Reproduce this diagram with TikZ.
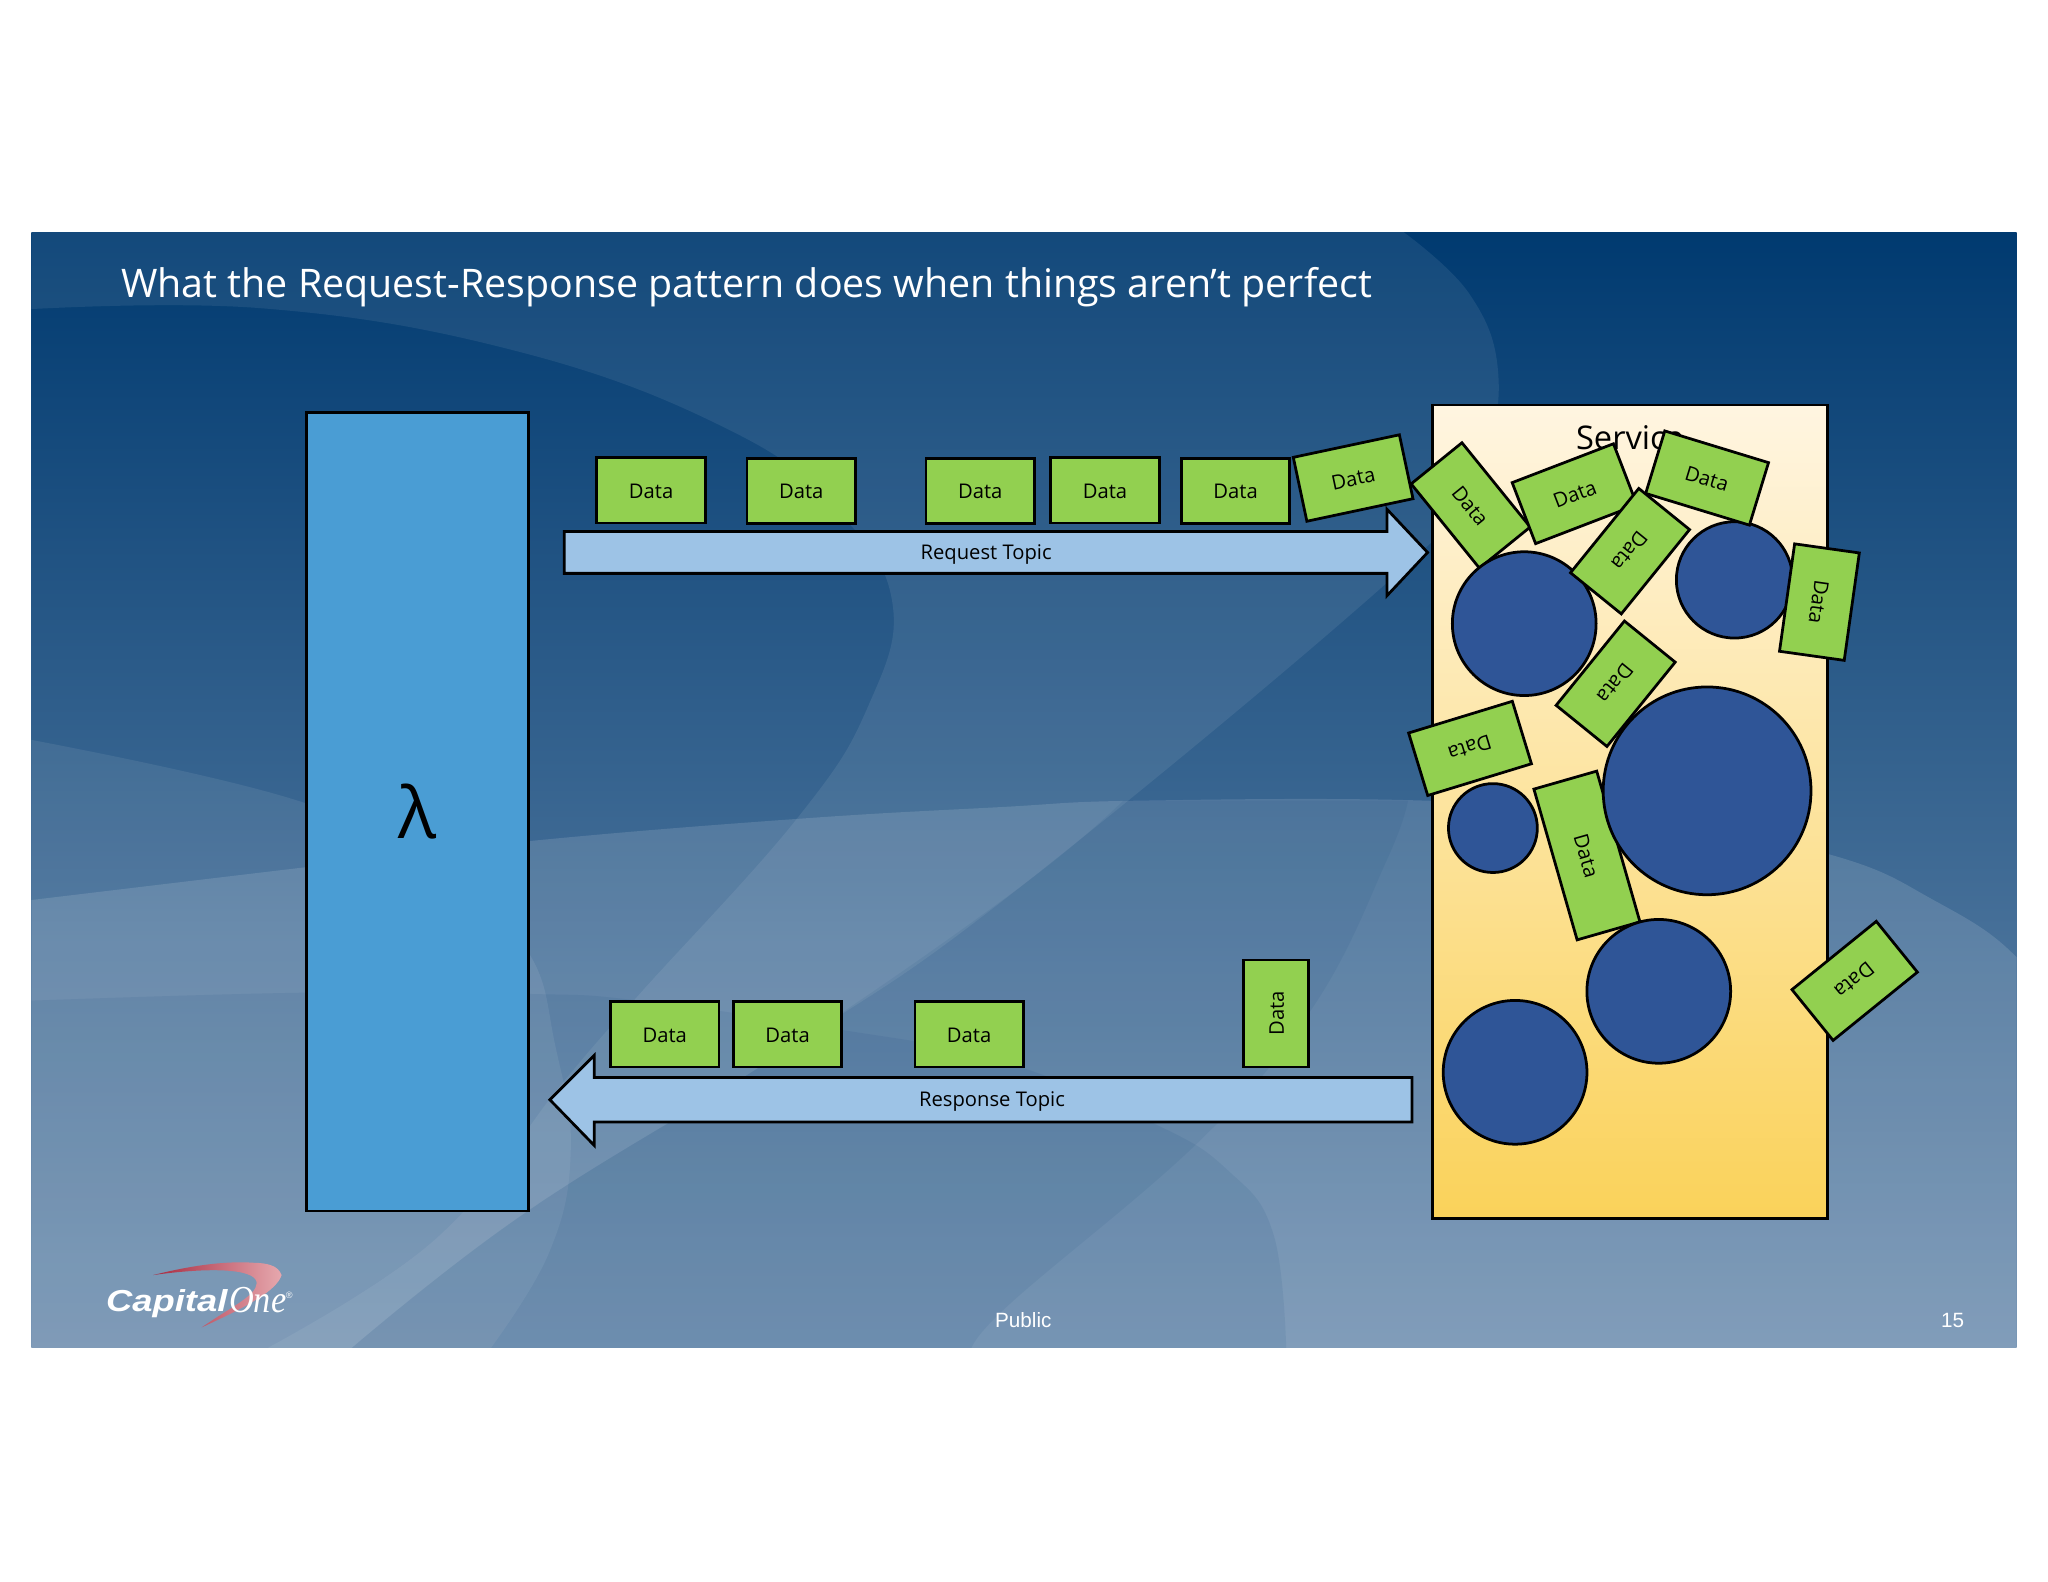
\documentclass[tikz,border=0pt]{standalone}
\usepackage{xcolor}
\usepackage{fontspec}
\setmainfont{Open Sans}
\newfontfamily\arialfont{Liberation Sans}
\newfontfamily\timesfont{Liberation Serif}
\definecolor{mynavy}{HTML}{003A70}
\definecolor{mymidblue}{HTML}{2F5D8C}
\definecolor{mypaleblue}{HTML}{6F8FB0}
\definecolor{mylambda}{HTML}{4A9DD4}
\definecolor{mygreen}{HTML}{92D050}
\definecolor{mytopic}{HTML}{9DC3E6}
\definecolor{mycircle}{HTML}{2F5597}
\definecolor{mycream}{HTML}{FFF5E1}
\definecolor{mysand}{HTML}{FFEEC6}
\definecolor{mygold}{HTML}{FAD25A}
\definecolor{myred}{HTML}{A82A40}
\definecolor{myrose}{HTML}{B93F55}
\definecolor{mypink}{HTML}{E6A8AE}
\tikzset{
  databox/.style={draw=black,line width=0.6pt,fill=mygreen,inner sep=0pt,
    minimum width=0.83cm,minimum height=0.5cm,text height=3.4pt,text depth=0pt,
    font=\fontsize{4.4}{5}\selectfont},
  blob/.style={circle,draw=black,line width=0.6pt,fill=mycircle,inner sep=0pt},
  topicarrow/.style={draw=black,line width=0.6pt,fill=mytopic},
  topiclabel/.style={inner sep=0pt,font=\fontsize{4.4}{5}\selectfont},
  swoosh/.style={fill=white,fill opacity=0.08},
  footer/.style={inner sep=0pt,text=white,font=\arialfont\fontsize{4.5}{5}\selectfont}
}
\begin{document}
\begin{tikzpicture}[x=0.01cm,y=-0.01cm]
\useasboundingbox (0,0) rectangle (1568,1211.2);
\fill[white] (0,0) rectangle (1568,1211.2);

% slide background
\begin{scope}
\clip (24,178) rectangle (1544,1032);
\shade[top color=mynavy,middle color=mymidblue,bottom color=mypaleblue] (24,178) rectangle (1544,1032);
\fill[swoosh] plot[smooth,tension=0.7] coordinates {(0,238) (200,236) (400,270) (560,330) (640,390) (683,460) (665,540) (610,627) (488,763) (430,830) (332,950) (190,1040)} -- (260,1040)
  -- plot[smooth,tension=0.7] coordinates {(260,1040) (400,930) (600,805) (780,680) (1093,418) (1135,350) (1147,285) (1125,225) (1075,178)} -- (1075,165) -- (0,165) -- cycle;
\fill[swoosh] plot[smooth,tension=0.7] coordinates {(0,562) (234,615) (350,680) (405,730) (425,800) (437,880) (420,960) (370,1040)} -- (0,1040) -- cycle;
\fill[swoosh,fill opacity=0.13] plot[smooth,tension=0.7] coordinates {(0,692) (234,664) (405,644) (610,627) (765,618) (873,613) (1092,613) (1250,625) (1400,654) (1482,690) (1544,733) (1580,790)} -- (1580,1040) -- (0,1040) -- cycle;
\fill[mynavy,fill opacity=0.08] plot[smooth,tension=0.7] coordinates {(0,767) (234,760) (405,761) (488,766) (635,787) (765,812) (883,860) (940,896) (975,945) (985,1040)} -- (0,1040) -- cycle;
\fill[mynavy,fill opacity=0.07] plot[smooth,tension=0.7] coordinates {(1078,613) (1062,658) (1006,770) (919,873) (766,1005) (745,1040)} -- (260,1040)
  -- plot[smooth,tension=0.7] coordinates {(260,1040) (400,930) (600,805) (780,680) (860,613)} -- cycle;
\end{scope}

% logo
\shade[left color=myred,middle color=myrose,right color=mypink,draw=none] (117.4,976.2) .. controls (150,968) and (175,965.5) .. (194,966.8) .. controls (205,967) and (213,969) .. (215.6,976.2)
  .. controls (212,988) and (190,1000) .. (154.4,1016.3) .. controls (178,1000) and (196,992) .. (196.5,982.6) .. controls (197,973) and (170,969) .. cycle;
\node[inner sep=0pt,anchor=base west,text=white,xscale=1.2,font=\arialfont\bfseries\itshape\fontsize{6.6}{7}\selectfont] (capital) at (80.4,1004.3) {Capital};
\node[inner sep=0pt,anchor=base west,text=white,xscale=0.9,font=\timesfont\itshape\fontsize{8.3}{9}\selectfont] (one) at (174.8,1005) {One};
\node[inner sep=0pt,text=white,font=\arialfont\fontsize{2}{2}\selectfont] (reg) at (221.5,992) {®};

% title and footer
\node[inner sep=0pt,anchor=west,text=white,font=\fontsize{8.57}{10}\selectfont] (title) at (92,220) {What the Request-Response pattern does when things aren’t perfect};
\node[footer] (public) at (783.5,1011) {Public};
\node[footer] (pagenum) at (1495,1011) {15};

\node[draw=black,line width=0.6pt,fill=mylambda,inner sep=0pt,minimum width=1.7cm,minimum height=6.11cm,font=\fontsize{15.5}{18}\selectfont] (lambda) at (319.5,621.5) {λ};

% service box
\shade[draw=black,line width=0.6pt,top color=mycream,middle color=mysand,bottom color=mygold] (1097,310) rectangle (1399,933);
\node[inner sep=0pt,font=\fontsize{7.1}{9}\selectfont] (service) at (1248,335) {Service};

% topic arrows
\draw[topicarrow] (432,407) -- (1062,407) -- (1062,390) -- (1093,423) -- (1062,456) -- (1062,439) -- (432,439) -- cycle;
\node[topiclabel] (request) at (755,424.5) {Request Topic};
\draw[topicarrow] (1081,825) -- (455,825) -- (455,808) -- (421,842) -- (455,877) -- (455,859) -- (1081,859) -- cycle;
\node[topiclabel] (response) at (759.5,843.5) {Response Topic};

% data on the request topic
\node[databox] (req1) at (498.5,375.5) {Data};
\node[databox] (req2) at (613.5,376) {Data};
\node[databox] (req3) at (750.5,376) {Data};
\node[databox] (req4) at (846,375.5) {Data};
\node[databox] (req5) at (946,376) {Data};
\node[databox,rotate=12] (req6) at (1036,366) {Data};

% data on the response topic
\node[databox] (resp1) at (509,792) {Data};
\node[databox] (resp2) at (603,792) {Data};
\node[databox] (resp3) at (742,792) {Data};
\node[databox,rotate=90,minimum width=0.82cm] (resp4) at (977,776) {Data};

% data under the circles
\node[databox,rotate=-51] (srv1) at (1126,387) {Data};
\node[databox,rotate=-129] (srv2) at (1237,523.5) {Data};
\node[databox,rotate=-74,minimum width=1.2cm] (srv3) at (1215,655) {Data};

% circles
\node[blob,minimum size=1.1cm] (blob1) at (1167,477.5) {};
\node[blob,minimum size=0.89cm] (blob2) at (1328,444) {};
\node[blob,minimum size=1.59cm] (blob3) at (1307,605.5) {};
\node[blob,minimum size=0.68cm] (blob4) at (1143,634) {};
\node[blob,minimum size=1.1cm] (blob5) at (1270,759) {};
\node[blob,minimum size=1.1cm] (blob6) at (1160,821) {};

% data over the circles
\node[databox,rotate=21] (srv4) at (1205.5,378) {Data};
\node[databox,rotate=-17] (srv5) at (1307,366) {Data};
\node[databox,rotate=-129] (srv6) at (1248,422) {Data};
\node[databox,rotate=-98] (srv7) at (1393,461) {Data};
\node[databox,rotate=197] (srv8) at (1125.5,573) {Data};
\node[databox,rotate=-141] (srv9) at (1420,751) {Data};
\end{tikzpicture}
\end{document}
